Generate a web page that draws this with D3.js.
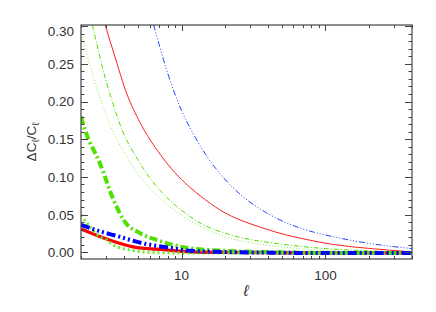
<!DOCTYPE html>
<html>
<head>
<meta charset="utf-8">
<script src="https://cdn.jsdelivr.net/npm/d3@7"></script>
<style>
  body { margin: 0; background: #fff; }
  text { font-family: "Liberation Sans", Arial, sans-serif; fill: #333; }
</style>
</head>
<body>
<div id="chart-area"></div>
<script>
/* Data: multipole l and fractional error dC/C */

// thin lines
var redThinL   = [2.94, 3.5, 4.06, 5.02, 6.06, 7.1, 8.5, 10.6, 14.7, 20.2, 30, 38.5, 50, 73.2, 115, 200, 395]
var redThinV   = [0.302, 0.255, 0.216, 0.176, 0.149, 0.130, 0.111, 0.092, 0.0695, 0.052, 0.038, 0.031, 0.0245, 0.0172, 0.0103, 0.0053, 0.0008]
var blueThinL  = [6.39, 8, 10, 12, 14.7, 20.2, 27.9, 38.5, 53, 71.2, 115, 197, 400]
var blueThinV  = [0.302, 0.238, 0.188, 0.158, 0.130, 0.096, 0.071, 0.053, 0.0395, 0.0305, 0.0205, 0.0122, 0.005]
var greenDashL = [2.40, 3.0, 3.27, 3.85, 5, 6, 7.1, 8.5, 10, 11.5, 14.7, 20.2, 30, 38.5, 71.2, 150, 395]
var greenDashV = [0.302, 0.226, 0.2025, 0.163, 0.122, 0.099, 0.082, 0.067, 0.056, 0.0473, 0.035, 0.0253, 0.017, 0.0138, 0.0074, 0.003, 0.0008]
var greenDotL  = [2.02, 2.5, 3.02, 3.27, 4, 5, 6.23, 8, 10, 11.5, 14.7, 20.2, 30, 38.5, 71, 150, 395]
var greenDotV  = [0.290, 0.226, 0.180, 0.164, 0.132, 0.104, 0.082, 0.063, 0.049, 0.0415, 0.031, 0.0205, 0.013, 0.0098, 0.0045, 0.001, -0.001]

// thick lines
var redThickL   = [2.0, 3.02, 4.6, 7.5, 11.5, 20, 50, 150, 400]
var redThickV   = [0.031, 0.0177, 0.0074, 0.0035, 0.0008, 0.0, -0.0005, -0.0008, -0.001]
var greenThDotL = [2.0, 2.71, 3.02, 3.36, 4.4, 5.5, 7.5, 15, 50, 150, 400]
var greenThDotV = [0.0496, 0.0207, 0.0164, 0.0097, 0.003, 0.0005, -0.0005, -0.001, -0.001, -0.001, -0.001]
var greenThDashL = [2.0, 2.13, 2.71, 3.36, 3.95, 5.16, 6.75, 8.81, 11.5, 20, 50, 150, 400]
var greenThDashV = [0.180, 0.1626, 0.118, 0.070, 0.043, 0.0253, 0.0164, 0.0097, 0.0053, 0.002, 0.0, -0.001, -0.001]
var blueThickL  = [2.0, 3.02, 3.36, 5.4, 8.81, 11.5, 20, 50, 150, 400]
var blueThickV  = [0.0363, 0.0253, 0.023, 0.012, 0.0053, 0.002, 0.0005, -0.0005, -0.001, -0.001]

// ticks
var xMajor = [10, 100]
var xLabels = ["10", "100"]
var xMinor = [2, 3, 4, 5, 6, 7, 8, 9, 20, 30, 40, 50, 60, 70, 80, 90, 200, 300, 400]
var yMajor = [0.00, 0.05, 0.10, 0.15, 0.20, 0.25, 0.30]
var yMinor = d3.range(0, 31).map(i => i / 100)

/* Chart area */
const W = 436, H = 312
const M = { LEFT: 81, RIGHT: 412, TOP: 25, BOTTOM: 259 }

var svg = d3.select("#chart-area").append("svg")
    .attr("width", W)
    .attr("height", H)

const x = d3.scaleLog().domain([2, 400]).range([M.LEFT, M.RIGHT])
const y = d3.scaleLinear().domain([-0.0088, 0.3015]).range([M.BOTTOM, M.TOP])

svg.append("clipPath").attr("id", "clip")
  .append("rect")
    .attr("x", M.LEFT).attr("y", M.TOP)
    .attr("width", M.RIGHT - M.LEFT).attr("height", M.BOTTOM - M.TOP)

const line = d3.line()
    .x(d => x(d[0]))
    .y(d => y(d[1]))
    .curve(d3.curveMonotoneX)

function zip(ls, vs) { return ls.map((l, i) => [l, vs[i]]) }

var series = [
  { l: redThinL,    v: redThinV,    color: "#ff2020", w: 1,   dash: null },
  { l: blueThinL,   v: blueThinV,   color: "#2244ff", w: 1,   dash: "6,2,1,2,1,2,1,2" },
  { l: greenDashL,  v: greenDashV,  color: "#55dd00", w: 1,   dash: "5,2,1,2" },
  { l: greenDotL,   v: greenDotV,   color: "#88f055", w: 1,   dash: "1,2" },
  { l: redThickL,   v: redThickV,   color: "#ff0000", w: 3.3, dash: null },
  { l: greenThDotL, v: greenThDotV, color: "#66ee22", w: 3,   dash: "2,3" },
  { l: greenThDashL, v: greenThDashV, color: "#4fe000", w: 4, dash: "8,3,2,3" },
  { l: blueThickL,  v: blueThickV,  color: "#0000ff", w: 4,   dash: "9,3,2,3,2,3,2,3" }
]

const g = svg.append("g").attr("clip-path", "url(#clip)")

g.selectAll("path")
  .data(series)
  .enter().append("path")
    .attr("d", d => line(zip(d.l, d.v)))
    .attr("fill", "none")
    .attr("stroke", d => d.color)
    .attr("stroke-width", d => d.w)
    .attr("stroke-dasharray", d => d.dash)

/* Axes frame and ticks */
const axisColor = "#444"

svg.append("rect")
    .attr("x", M.LEFT).attr("y", M.TOP)
    .attr("width", M.RIGHT - M.LEFT).attr("height", M.BOTTOM - M.TOP)
    .attr("fill", "none")
    .attr("stroke", axisColor)
    .attr("stroke-width", 1.2)

const ticks = svg.append("g").attr("stroke", axisColor).attr("stroke-width", 1)

// x ticks, bottom and top, pointing inward
xMinor.concat(xMajor).forEach(t => {
  var len = xMajor.includes(t) ? 6 : 3
  var px = Math.round(x(t)) + 0.5
  ticks.append("line").attr("x1", px).attr("x2", px).attr("y1", M.BOTTOM).attr("y2", M.BOTTOM - len)
  ticks.append("line").attr("x1", px).attr("x2", px).attr("y1", M.TOP).attr("y2", M.TOP + len)
})

// y ticks, left and right
yMinor.forEach((t, i) => {
  var len = (i % 5 === 0) ? 7 : 3.5
  var py = Math.round(y(t)) + 0.5
  ticks.append("line").attr("x1", M.LEFT).attr("x2", M.LEFT + len).attr("y1", py).attr("y2", py)
  ticks.append("line").attr("x1", M.RIGHT).attr("x2", M.RIGHT - len).attr("y1", py).attr("y2", py)
})

// tick labels
svg.selectAll(".ylab")
  .data(yMajor)
  .enter().append("text")
    .attr("class", "ylab")
    .attr("x", 74)
    .attr("y", d => Math.max(y(d), 31))
    .attr("dy", "0.36em")
    .attr("text-anchor", "end")
    .attr("font-size", 13.5)
    .text(d => d.toFixed(2))

svg.selectAll(".xlab")
  .data(xMajor)
  .enter().append("text")
    .attr("class", "xlab")
    .attr("x", d => x(d))
    .attr("y", 280)
    .attr("text-anchor", "middle")
    .attr("font-size", 13.5)
    .text((d, i) => xLabels[i])

/* Axis titles */
svg.append("text")
    .attr("x", 246)
    .attr("y", 296)
    .attr("text-anchor", "middle")
    .attr("font-size", 16)
    .attr("font-style", "italic")
    .text("ℓ")

var yt = svg.append("text")
    .attr("transform", "translate(36,142) rotate(-90)")
    .attr("text-anchor", "middle")
    .attr("font-size", 13.5)
yt.append("tspan").text("ΔC")
yt.append("tspan").attr("font-size", 10).attr("dy", 3).text("ℓ")
yt.append("tspan").attr("dy", -3).text("/C")
yt.append("tspan").attr("font-size", 10).attr("dy", 3).text("ℓ")
</script>
</body>
</html>
